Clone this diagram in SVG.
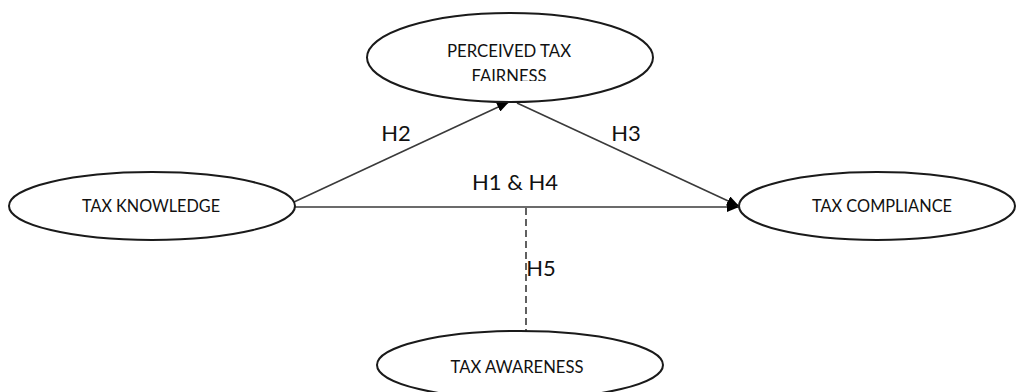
<svg xmlns="http://www.w3.org/2000/svg" width="1016" height="392" viewBox="0 0 1016 392">
<style>
.node ellipse{fill:#fff;stroke:#1a1a1a;stroke-width:2}
.nt{font-family:Lato,"Liberation Sans",sans-serif;font-size:18px;fill:#111;text-anchor:middle}
.el{font-family:Lato,"Liberation Sans",sans-serif;font-size:22px;fill:#111;text-anchor:middle}
.conn{fill:none;stroke:#3a3a3a;stroke-width:1.6}
</style>
<defs>
<marker id="arr" viewBox="0 0 12 10" refX="12" refY="5" markerWidth="12" markerHeight="10" markerUnits="userSpaceOnUse" orient="auto">
<path d="M0,0 L12,5 L0,10 Z" fill="#000"/>
</marker>
<clipPath id="clipTop"><rect x="360" y="0" width="300" height="81"/></clipPath>
</defs>
<rect width="1016" height="392" fill="#fff"/>
<g id="connectors">
<line class="conn" x1="294" y1="202" x2="509" y2="102" marker-end="url(#arr)"/>
<line class="conn" x1="517" y1="103" x2="739" y2="206" marker-end="url(#arr)"/>
<line class="conn" x1="295" y1="207" x2="739" y2="207" stroke="#666" stroke-width="2.5" marker-end="url(#arr)"/>
<line class="conn" x1="526" y1="208" x2="526" y2="331" stroke="#222" stroke-dasharray="7,4"/>
<text class="el" x="396" y="141">H2</text>
<text class="el" x="626" y="141">H3</text>
<text class="el" x="515" y="190">H1 &amp; H4</text>
<text class="el" x="541" y="276">H5</text>
</g>
<g id="perceived-tax-fairness" class="node">
<ellipse cx="510" cy="57.5" rx="143" ry="44.5"/>
<g clip-path="url(#clipTop)">
<text class="nt" x="509" y="57" textLength="124" lengthAdjust="spacingAndGlyphs">PERCEIVED TAX</text>
<text class="nt" x="509" y="82" textLength="75" lengthAdjust="spacingAndGlyphs">FAIRNESS</text>
</g>
</g>
<g id="tax-knowledge" class="node">
<ellipse cx="152" cy="206" rx="143" ry="34"/>
<text class="nt" x="151" y="212" textLength="138" lengthAdjust="spacingAndGlyphs">TAX KNOWLEDGE</text>
</g>
<g id="tax-compliance" class="node">
<ellipse cx="877" cy="206" rx="138" ry="34"/>
<text class="nt" x="882" y="212" textLength="140" lengthAdjust="spacingAndGlyphs">TAX COMPLIANCE</text>
</g>
<g id="tax-awareness" class="node">
<ellipse cx="520" cy="365" rx="143" ry="34"/>
<text class="nt" x="517" y="373" textLength="133" lengthAdjust="spacingAndGlyphs">TAX AWARENESS</text>
</g>
</svg>
